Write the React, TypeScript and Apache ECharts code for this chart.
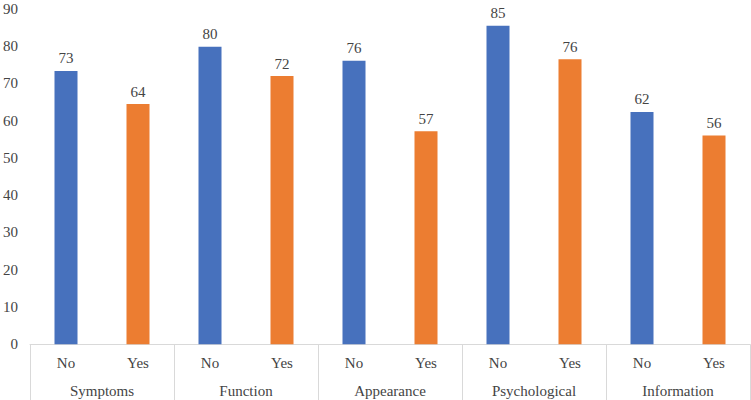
import React, { useEffect, useRef } from "react";
import * as echarts from "echarts";

const groups = ["Symptoms", "Function", "Appearance", "Psychological", "Information"];
const subCategories = ["No", "Yes", "No", "Yes", "No", "Yes", "No", "Yes", "No", "Yes"];
const values = [73.3, 64.4, 79.8, 71.9, 76.0, 57.1, 85.4, 76.4, 62.3, 56.0];
const yTicks = { min: 0, max: 90, interval: 10 };
const colorNo = "#4771BD";
const colorYes = "#EC7D31";

export default function App() {
  const ref = useRef<HTMLDivElement>(null);
  useEffect(() => {
    document.body.style.margin = "0";
    if (!ref.current) return;
    const chart = echarts.init(ref.current, null, { renderer: "svg" });
    const font = "'Liberation Serif', 'Times New Roman', serif";
    const textColor = "#444444";
    chart.setOption({
      animation: false,
      textStyle: { fontFamily: font },
      grid: { left: 28, right: 1, top: 8.6, bottom: 55.7, containLabel: false },
      xAxis: [
        {
          type: "category",
          data: subCategories,
          position: "bottom",
          axisLine: { show: false },
          axisTick: { show: false },
          axisLabel: { color: textColor, fontFamily: font, fontSize: 15, margin: 11, interval: 0 },
        },
        {
          type: "category",
          data: groups,
          position: "bottom",
          axisLine: { show: true, lineStyle: { color: "#d9d9d9", width: 1 } },
          axisTick: { show: true, length: 57, lineStyle: { color: "#d9d9d9", width: 1 } },
          axisLabel: { color: textColor, fontFamily: font, fontSize: 15, margin: 39, interval: 0 },
        },
      ],
      yAxis: {
        type: "value",
        min: yTicks.min,
        max: yTicks.max,
        interval: yTicks.interval,
        axisLine: { show: false },
        axisTick: { show: false },
        splitLine: { show: false },
        axisLabel: { color: textColor, fontFamily: font, fontSize: 15, margin: 12 },
      },
      series: [
        {
          type: "bar",
          xAxisIndex: 0,
          barWidth: 23,
          data: values.map((v, i) => ({
            value: v,
            itemStyle: { color: i % 2 === 0 ? colorNo : colorYes },
          })),
          label: {
            show: true,
            position: "top",
            distance: 5,
            color: textColor,
            fontFamily: font,
            fontSize: 15,
            formatter: (p: any) => String(Math.round(p.value)),
          },
        },
      ],
    });
    return () => chart.dispose();
  }, []);
  return <div ref={ref} style={{ width: 751, height: 400 }} />;
}
